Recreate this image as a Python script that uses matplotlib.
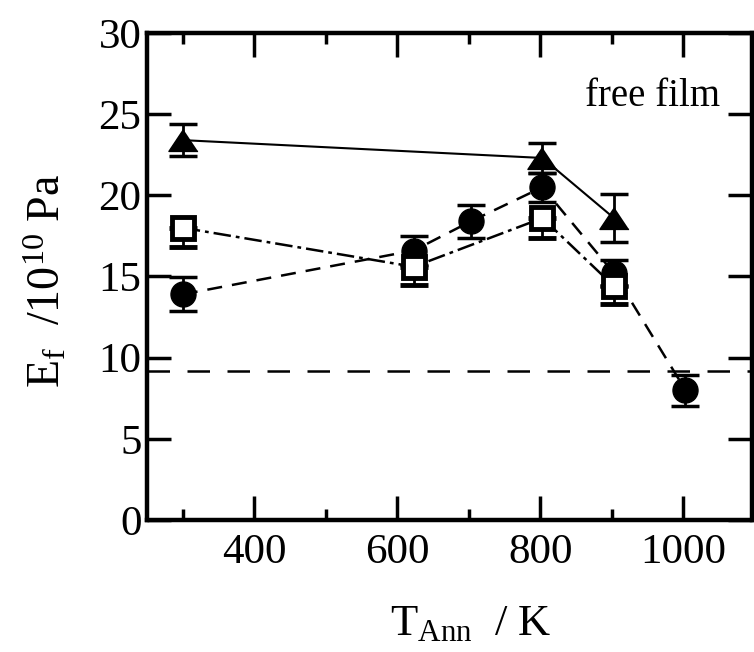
import matplotlib
matplotlib.use("Agg")
import matplotlib.pyplot as plt
import numpy as np
from matplotlib.ticker import MultipleLocator

plt.rcParams['font.family'] = ['Liberation Serif', 'DejaVu Serif']
plt.rcParams['mathtext.fontset'] = 'custom'
plt.rcParams['mathtext.rm'] = 'Liberation Serif'
plt.rcParams['mathtext.it'] = 'Liberation Serif:italic'

# annealing temperature / K and Young's modulus / 1e10 Pa
t_tri = [300, 803, 903]
e_tri = [23.4, 22.3, 18.6]
err_tri = [1.0, 0.9, 1.5]

t_circ = [300, 623, 703, 803, 903, 1003]
e_circ = [13.9, 16.6, 18.4, 20.5, 15.2, 8.0]
err_circ = [1.05, 0.9, 1.0, 0.9, 0.8, 0.95]

t_sq = [300, 623, 803, 903]
e_sq = [18.0, 15.6, 18.6, 14.4]
err_sq_low = [1.2, 1.1, 1.2, 1.1]

e_bulk = 9.2

fig = plt.figure(figsize=(7.54, 6.52), dpi=100)
ax = fig.add_axes([0.195, 0.2025, 0.8023, 0.7469])

tri = [(0, 0.75), (-1, -0.75), (1, -0.75)]

ax.errorbar(t_tri, e_tri, yerr=err_tri, color='k', lw=1.5, ls='-',
            marker=tri, ms=21, capsize=10, capthick=2.5, elinewidth=2)
ax.errorbar(t_circ, e_circ, yerr=err_circ, color='k', lw=1.8, ls=(0, (6, 4)),
            marker='o', ms=18, capsize=10, capthick=2.5, elinewidth=2)
ax.errorbar(t_sq, e_sq, yerr=[err_sq_low, [0] * len(t_sq)], color='k', lw=1.8,
            ls=(0, (7, 2, 1.5, 2)), marker='s', ms=16, mfc='white', mew=3.5,
            capsize=10, capthick=2.5, elinewidth=2)

ax.axhline(e_bulk, color='k', lw=1.8, ls=(0, (9, 7)))

ax.text(862, 26.1, 'free film', fontsize=28, ha='left', va='center')

ax.set_xlim(250, 1096)
ax.set_ylim(0, 30)
ax.xaxis.set_major_locator(MultipleLocator(200))
ax.xaxis.set_minor_locator(MultipleLocator(100))
ax.yaxis.set_major_locator(MultipleLocator(5))

for s in ax.spines.values():
    s.set_linewidth(3.2)
ax.tick_params(which='both', direction='in', top=True, right=True,
               width=2.5, labelsize=31)
ax.tick_params(which='major', length=17)
ax.tick_params(which='minor', length=8)
ax.tick_params(axis='y', which='major', pad=4)
ax.tick_params(axis='x', which='major', pad=10)

ax.set_xlabel(r'T$_{\mathrm{Ann}}$  / K', fontsize=32)
ax.set_ylabel(r'E$_{\mathrm{f}}$  /10$^{10}$ Pa', fontsize=33)
ax.xaxis.set_label_coords(0.535, -0.172)
ax.yaxis.set_label_coords(-0.128, 0.49)

fig.savefig('out.png', dpi=100)
